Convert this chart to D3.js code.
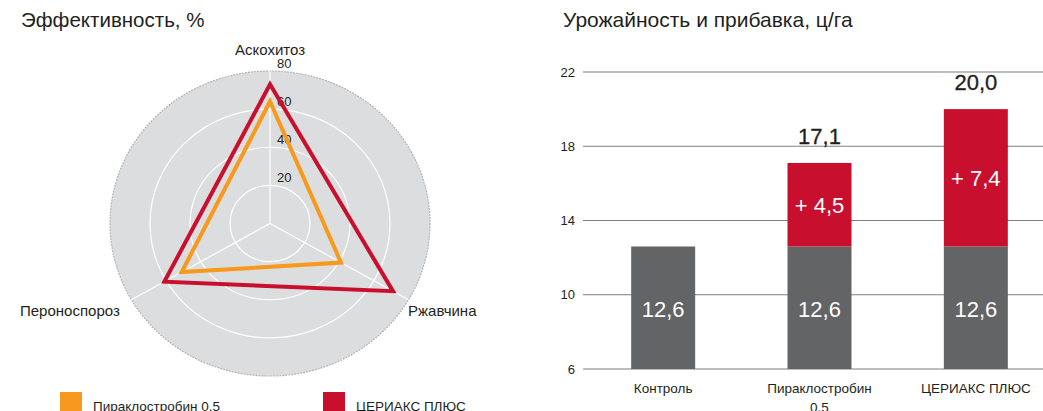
<!DOCTYPE html>
<html>
<head>
<meta charset="utf-8">
<script src="https://cdn.jsdelivr.net/npm/d3@7"></script>
<style>
  body { margin: 0; background: #fff; }
  svg { display: block; font-family: "Liberation Sans", Arial, sans-serif; }
</style>
</head>
<body>
<svg id="chart" width="1043" height="411"></svg>
<script>
// radar data
const radarAxes = ['Аскохитоз', 'Ржавчина', 'Пероноспороз']
const radarTicks = [20, 40, 60, 80]
const pyraclostrobin = [64, 41, 51]
const ceriax = [73, 71, 61]
const seriesNames = ['Пираклостробин 0,5', 'ЦЕРИАКС ПЛЮС']

// bar data
const barCategories = ['Контроль', 'Пираклостробин 0,5', 'ЦЕРИАКС ПЛЮС']
const barBase = [12.6, 12.6, 12.6]
const barGain = [0, 4.5, 7.4]
const barTicks = [6, 10, 14, 18, 22]

const ORANGE = '#f7991c'
const RED = '#c8102e'
const GREY_BAR = '#636466'
const TEXT = '#231f20'

const svg = d3.select('#chart')
const fmt = v => d3.format('.1f')(v).replace('.', ',')

// ---------- radar ----------
svg.append('text')
  .attr('x', 21).attr('y', 27)
  .attr('font-size', 20.5).attr('fill', TEXT)
  .text('Эффективность, %')

const cx = 270, cy = 223.5
// picture is a bit wider than tall, so two radial scales
const rx = d3.scaleLinear().domain([0, 80]).range([0, 160])
const ry = d3.scaleLinear().domain([0, 80]).range([0, 152.5])
const angle = i => i * 2 * Math.PI / radarAxes.length

function pt(i, v) {
  return [cx + rx(v) * Math.sin(angle(i)), cy - ry(v) * Math.cos(angle(i))]
}

const radar = svg.append('g')

radar.append('ellipse')
  .attr('cx', cx).attr('cy', cy)
  .attr('rx', rx(80)).attr('ry', ry(80))
  .attr('fill', '#dcdddf')
  .attr('stroke', '#b3b4b6')
  .attr('stroke-width', 1.2)
  .attr('stroke-dasharray', '2,1')

radar.selectAll('ellipse.ring')
  .data(radarTicks.slice(0, -1))
  .join('ellipse')
  .attr('class', 'ring')
  .attr('cx', cx).attr('cy', cy)
  .attr('rx', d => rx(d)).attr('ry', d => ry(d))
  .attr('fill', 'none')
  .attr('stroke', '#fff')
  .attr('stroke-width', 1.2)

radar.selectAll('line.spoke')
  .data(radarAxes)
  .join('line')
  .attr('class', 'spoke')
  .attr('x1', cx).attr('y1', cy)
  .attr('x2', (d, i) => pt(i, 80)[0])
  .attr('y2', (d, i) => pt(i, 80)[1])
  .attr('stroke', '#fff')
  .attr('stroke-width', 1.2)

radar.selectAll('text.tick')
  .data(radarTicks)
  .join('text')
  .attr('class', 'tick')
  .attr('x', cx + 7)
  .attr('y', d => cy - ry(d) - 3)
  .attr('font-size', 13).attr('fill', TEXT)
  .text(d => d)

const line = d3.line().curve(d3.curveLinearClosed)
;[[pyraclostrobin, ORANGE], [ceriax, RED]].forEach(([vals, color]) => {
  radar.append('path')
    .attr('d', line(vals.map((v, i) => pt(i, v))))
    .attr('fill', 'none')
    .attr('stroke', color)
    .attr('stroke-width', 4)
    .attr('stroke-linejoin', 'miter')
})

const axisLabelPos = [
  { x: 270, y: 55, anchor: 'middle' },
  { x: 408, y: 316, anchor: 'start' },
  { x: 20, y: 316, anchor: 'start' }
]
radar.selectAll('text.axis-label')
  .data(radarAxes)
  .join('text')
  .attr('class', 'axis-label')
  .attr('x', (d, i) => axisLabelPos[i].x)
  .attr('y', (d, i) => axisLabelPos[i].y)
  .attr('text-anchor', (d, i) => axisLabelPos[i].anchor)
  .attr('font-size', 15).attr('fill', TEXT)
  .text(d => d)

// legend
const legendX = [60, 323]
const legend = svg.selectAll('g.legend')
  .data(seriesNames)
  .join('g')
  .attr('class', 'legend')
  .attr('transform', (d, i) => `translate(${legendX[i]},392)`)
legend.append('rect')
  .attr('width', 22).attr('height', 22)
  .attr('fill', (d, i) => i === 0 ? ORANGE : RED)
legend.append('text')
  .attr('x', 33).attr('y', 19)
  .attr('font-size', 13.5).attr('fill', TEXT)
  .text(d => d)

// ---------- bars ----------
svg.append('text')
  .attr('x', 563).attr('y', 27)
  .attr('font-size', 21).attr('fill', TEXT)
  .text('Урожайность и прибавка, ц/га')

const y = d3.scaleLinear().domain([6, 22]).range([369, 72])
const x = d3.scalePoint().domain(barCategories).range([585, 1054]).padding(0.5)
const barW = 64

const yAxis = svg.append('g')
  .attr('transform', 'translate(583,0)')
  .call(d3.axisLeft(y).tickValues(barTicks).tickSize(0).tickPadding(8))
yAxis.select('.domain').remove()
yAxis.selectAll('text')
  .attr('font-size', 13).attr('fill', TEXT)
  .attr('font-family', '"Liberation Sans", Arial, sans-serif')

svg.selectAll('line.grid')
  .data(barTicks)
  .join('line')
  .attr('class', 'grid')
  .attr('x1', 583).attr('x2', 1043)
  .attr('y1', d => y(d)).attr('y2', d => y(d))
  .attr('stroke', '#7d7e80')
  .attr('stroke-width', 1.2)

const bars = svg.selectAll('g.bar')
  .data(barCategories)
  .join('g')
  .attr('class', 'bar')

bars.append('rect')
  .attr('x', d => x(d) - barW / 2)
  .attr('width', barW)
  .attr('y', (d, i) => y(barBase[i]))
  .attr('height', (d, i) => y(6) - y(barBase[i]))
  .attr('fill', GREY_BAR)

bars.filter((d, i) => barGain[i] > 0)
  .append('rect')
  .attr('x', d => x(d) - barW / 2)
  .attr('width', barW)
  .attr('y', d => {
    const i = barCategories.indexOf(d)
    return y(barBase[i] + barGain[i])
  })
  .attr('height', d => {
    const i = barCategories.indexOf(d)
    return y(barBase[i]) - y(barBase[i] + barGain[i])
  })
  .attr('fill', RED)

bars.append('text')
  .attr('x', d => x(d))
  .attr('y', 317)
  .attr('text-anchor', 'middle')
  .attr('font-size', 22).attr('fill', '#fff')
  .text((d, i) => fmt(barBase[i]))

bars.filter((d, i) => barGain[i] > 0)
  .each(function (d) {
    const i = barCategories.indexOf(d)
    const g = d3.select(this)
    const top = y(barBase[i] + barGain[i])
    const mid = (top + y(barBase[i])) / 2
    g.append('text')
      .attr('x', x(d)).attr('y', mid + 8)
      .attr('text-anchor', 'middle')
      .attr('font-size', 22).attr('fill', '#fff')
      .text('+ ' + fmt(barGain[i]))
    g.append('text')
      .attr('x', x(d)).attr('y', top - 19)
      .attr('text-anchor', 'middle')
      .attr('font-size', 22).attr('fill', TEXT)
      .attr('stroke', TEXT).attr('stroke-width', 0.3)
      .text(fmt(barBase[i] + barGain[i]))
  })

// category labels, wrap on the first space for the long one
bars.append('text')
  .attr('x', d => x(d))
  .attr('y', 393)
  .attr('text-anchor', 'middle')
  .attr('font-size', 13.5).attr('fill', TEXT)
  .each(function (d) {
    const t = d3.select(this)
    const parts = d === 'Пираклостробин 0,5' ? d.split(' ') : [d]
    parts.forEach((p, k) => {
      t.append('tspan')
        .attr('x', x(d))
        .attr('dy', k === 0 ? 0 : 19)
        .text(p)
    })
  })
</script>
</body>
</html>
